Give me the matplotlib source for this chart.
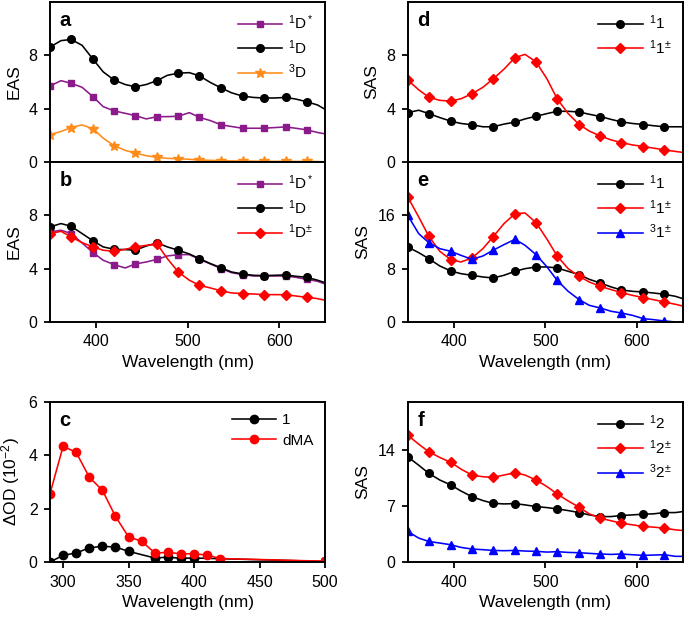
import numpy as np
import matplotlib.pyplot as plt

plt.rcParams['font.family'] = ['Liberation Sans', 'DejaVu Sans']
plt.rcParams['mathtext.fontset'] = 'custom'
plt.rcParams['mathtext.rm'] = 'Liberation Sans'
plt.rcParams['mathtext.it'] = 'Liberation Sans:italic'
plt.rcParams['mathtext.bf'] = 'Liberation Sans:bold'

# common wavelength grid (nm) for panels a, b, d, e, f
wl = [350, 362, 373, 385, 397, 408, 420, 432, 443, 455, 467, 478, 490, 502,
      513, 525, 537, 548, 560, 572, 583, 595, 607, 618, 630, 642, 650]

# panel a
a_1Dstar = [5.7, 6.1, 5.9, 5.6, 4.89, 4.15, 3.83, 3.65, 3.48, 3.23, 3.4, 3.4, 3.43, 3.7,
            3.35, 3.1, 2.78, 2.66, 2.53, 2.53, 2.53, 2.58, 2.63, 2.53, 2.41, 2.21, 2.11]
a_1D = [8.62, 9.1, 9.19, 8.75, 7.7, 6.76, 6.14, 5.81, 5.64, 5.81, 6.11, 6.5, 6.66, 6.7,
        6.46, 5.96, 5.54, 5.19, 4.94, 4.84, 4.8, 4.8, 4.84, 4.72, 4.52, 4.27, 3.95]
a_3D = [2.04, 2.29, 2.58, 2.78, 2.48, 1.79, 1.22, 0.87, 0.67, 0.47, 0.35, 0.27, 0.25, 0.2,
        0.15, 0.12, 0.1, 0.08, 0.07, 0.06, 0.05, 0.05, 0.05, 0.04, 0.04, 0.03, 0.02]

# panel b
b_1Dstar = [6.75, 6.88, 6.63, 5.93, 5.2, 4.63, 4.3, 4.05, 4.35, 4.5, 4.7, 4.95, 5.05, 5.05,
            4.7, 4.35, 4.0, 3.7, 3.55, 3.45, 3.45, 3.45, 3.45, 3.35, 3.2, 3.05, 2.85]
b_1D = [7.13, 7.38, 7.18, 6.63, 6.08, 5.63, 5.45, 5.43, 5.38, 5.7, 5.93, 5.63, 5.38, 5.1,
        4.75, 4.38, 4.05, 3.75, 3.6, 3.5, 3.48, 3.5, 3.53, 3.43, 3.35, 3.13, 2.95]
b_1Dpm = [6.63, 6.8, 6.38, 5.95, 5.63, 5.38, 5.3, 5.45, 5.63, 5.75, 5.83, 4.75, 3.75, 3.13,
          2.75, 2.55, 2.33, 2.18, 2.13, 2.1, 2.05, 2.05, 2.05, 1.95, 1.85, 1.75, 1.63]

# panel c
c_wl1 = [290, 300, 310, 320, 330, 340, 350, 370, 380, 390, 400, 500]
c_1 = [0.0, 0.25, 0.34, 0.53, 0.59, 0.56, 0.40, 0.15, 0.18, 0.14, 0.15, 0.02]
c_wl2 = [290, 300, 310, 320, 330, 340, 350, 360, 370, 380, 390, 400, 410, 420, 500]
c_dMA = [2.56, 4.34, 4.11, 3.18, 2.69, 1.71, 0.94, 0.78, 0.34, 0.36, 0.31, 0.31, 0.26, 0.13, 0.03]

# panel d
d_11 = [3.7, 3.88, 3.63, 3.33, 3.06, 2.89, 2.79, 2.64, 2.64, 2.84, 2.99, 3.23, 3.43, 3.63,
        3.8, 3.8, 3.75, 3.58, 3.41, 3.19, 3.01, 2.89, 2.81, 2.72, 2.64, 2.64, 2.64]
d_11pm = [6.15, 5.41, 4.86, 4.62, 4.57, 4.74, 5.11, 5.6, 6.22, 6.96, 7.83, 8.07, 7.51, 6.22,
          4.74, 3.63, 2.81, 2.32, 1.95, 1.65, 1.46, 1.28, 1.16, 1.04, 0.91, 0.79, 0.72]

# panel e
e_11 = [11.25, 10.4, 9.5, 8.4, 7.65, 7.25, 7.0, 6.75, 6.6, 7.0, 7.6, 8.0, 8.25, 8.25,
        8.1, 7.6, 7.1, 6.4, 5.85, 5.25, 4.8, 4.6, 4.5, 4.35, 4.15, 3.85, 3.5]
e_11pm = [18.75, 15.75, 12.85, 10.6, 9.35, 9.0, 9.6, 11.0, 12.75, 14.75, 16.25, 16.35, 14.9, 12.4,
          9.9, 8.0, 6.85, 6.0, 5.35, 4.85, 4.4, 4.0, 3.65, 3.35, 3.0, 2.65, 2.4]
e_31pm = [16.0, 13.25, 11.9, 11.0, 10.6, 10.0, 9.4, 9.9, 10.75, 11.6, 12.4, 11.5, 10.1, 8.25,
          6.25, 4.6, 3.35, 2.5, 2.1, 1.6, 1.35, 1.0, 0.5, 0.35, 0.15, 0.0, -0.2]

# panel f
f_12 = [13.15, 12.1, 11.08, 10.25, 9.63, 8.88, 8.17, 7.68, 7.34, 7.26, 7.3, 7.14, 6.93, 6.8,
        6.64, 6.43, 6.18, 5.89, 5.68, 5.68, 5.81, 5.89, 5.98, 6.02, 6.18, 6.18, 6.3]
f_12pm = [15.85, 14.73, 13.78, 13.07, 12.45, 11.62, 10.87, 10.66, 10.58, 10.87, 11.16, 10.87, 10.25, 9.42,
          8.51, 7.63, 6.85, 6.02, 5.48, 5.15, 4.85, 4.65, 4.44, 4.36, 4.23, 4.02, 3.94]
f_32pm = [3.82, 2.99, 2.57, 2.37, 2.16, 1.83, 1.62, 1.54, 1.45, 1.41, 1.45, 1.37, 1.33, 1.24,
          1.29, 1.2, 1.16, 1.08, 1.0, 0.95, 1.0, 0.91, 0.83, 0.87, 0.91, 0.71, 0.71]

PURPLE = '#8b1a8b'
ORANGE = '#ff8c1a'
RED = '#ff0000'
BLUE = '#0000ff'
BLACK = '#000000'

mk = list(range(0, 25, 2))
styles = {'s': 5, 'o': 5.5, 'D': 4.8, '*': 7, '^': 6}

fig = plt.figure(figsize=(6.85, 6.18), dpi=100)
L1, L2, W, H = 0.073, 0.5952, 0.4015, 0.2589
ax_a = fig.add_axes([L1, 0.7379, W, H])
ax_b = fig.add_axes([L1, 0.479, W, H])
ax_c = fig.add_axes([L1, 0.0906, W, H])
ax_d = fig.add_axes([L2, 0.7379, W, H])
ax_e = fig.add_axes([L2, 0.479, W, H])
ax_f = fig.add_axes([L2, 0.0906, W, H])


def curve(ax, x, y, color, marker, label, me=mk):
    ax.plot(x, y, color=color, lw=1.15, marker=marker, ms=styles[marker],
            markevery=me, label=label)


curve(ax_a, wl, a_1Dstar, PURPLE, 's', r'$\mathregular{^1D^*}$')
curve(ax_a, wl, a_1D, BLACK, 'o', r'$\mathregular{^1D}$')
curve(ax_a, wl, a_3D, ORANGE, '*', r'$\mathregular{^3D}$')

curve(ax_b, wl, b_1Dstar, PURPLE, 's', r'$\mathregular{^1D^*}$')
curve(ax_b, wl, b_1D, BLACK, 'o', r'$\mathregular{^1D}$')
curve(ax_b, wl, b_1Dpm, RED, 'D', r'$\mathregular{^1D^{\pm}}$')

ax_c.plot(c_wl1, c_1, color=BLACK, lw=1.15, marker='o', ms=6, label='1')
ax_c.plot(c_wl2, c_dMA, color=RED, lw=1.15, marker='o', ms=6, label='dMA')

curve(ax_d, wl, d_11, BLACK, 'o', r'$\mathregular{^11}$')
curve(ax_d, wl, d_11pm, RED, 'D', r'$\mathregular{^11^{\pm}}$')

curve(ax_e, wl, e_11, BLACK, 'o', r'$\mathregular{^11}$')
curve(ax_e, wl, e_11pm, RED, 'D', r'$\mathregular{^11^{\pm}}$')
curve(ax_e, wl, e_31pm, BLUE, '^', r'$\mathregular{^31^{\pm}}$')

curve(ax_f, wl, f_12, BLACK, 'o', r'$\mathregular{^12}$')
curve(ax_f, wl, f_12pm, RED, 'D', r'$\mathregular{^12^{\pm}}$')
curve(ax_f, wl, f_32pm, BLUE, '^', r'$\mathregular{^32^{\pm}}$')

for ax in [ax_a, ax_b, ax_d, ax_e, ax_f]:
    ax.set_xlim(350, 650)
    ax.set_xticks([400, 500, 600])
ax_c.set_xlim(290, 500)
ax_c.set_xticks([300, 350, 400, 450, 500])

for ax in [ax_a, ax_b, ax_d]:
    ax.set_ylim(0, 12)
    ax.set_yticks([0, 4, 8])
ax_c.set_ylim(0, 6)
ax_c.set_yticks([0, 2, 4, 6])
ax_e.set_ylim(0, 24)
ax_e.set_yticks([0, 8, 16])
ax_f.set_ylim(0, 20)
ax_f.set_yticks([0, 7, 14])

for ax in [ax_a, ax_b, ax_c, ax_d, ax_e, ax_f]:
    for s in ax.spines.values():
        s.set_linewidth(1.4)
    ax.tick_params(direction='out', length=4.5, width=1.3, labelsize=11.5, pad=4.5)
    ax.legend(loc='upper right', frameon=False, fontsize=11, handlelength=2.9,
              labelspacing=0.4, borderaxespad=0.35, handletextpad=0.4)

for ax in [ax_a, ax_d]:
    ax.tick_params(axis='x', length=0, labelbottom=False)

for ax in [ax_b, ax_c, ax_e, ax_f]:
    ax.set_xlabel('Wavelength (nm)', fontsize=12.5, labelpad=4)

ax_a.set_ylabel('EAS', fontsize=12.5, labelpad=5)
ax_b.set_ylabel('EAS', fontsize=12.5, labelpad=5)
ax_c.set_ylabel(r'$\Delta$OD (10$^{-2}$)', fontsize=12.5, labelpad=5)
for ax in [ax_d, ax_e, ax_f]:
    ax.set_ylabel('SAS', fontsize=12.5, labelpad=5)

for ax, t in zip([ax_a, ax_b, ax_c, ax_d, ax_e, ax_f], 'abcdef'):
    ax.text(0.035, 0.945, t, transform=ax.transAxes, fontsize=14.5,
            fontweight='bold', va='top', ha='left')

fig.savefig('out.png', dpi=100)
